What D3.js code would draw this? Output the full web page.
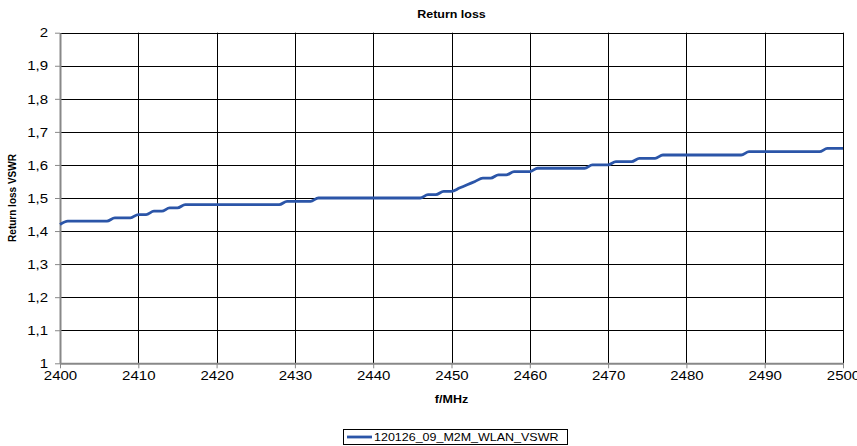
<!DOCTYPE html>
<html>
<head>
<meta charset="utf-8">
<script src="https://cdn.jsdelivr.net/npm/d3@7"></script>
<style>
  html, body { margin: 0; padding: 0; background: #fff; }
  svg { display: block; font-family: "Liberation Sans", Arial, sans-serif; }
</style>
</head>
<body>
<svg id="chart" width="857" height="446"></svg>
<script>
// ---- data ----
const title = "Return loss";
const xTitle = "f/MHz";
const yTitle = "Return loss VSWR";
const seriesName = "120126_09_M2M_WLAN_VSWR";
const freqs = d3.range(2400, 2501, 1);
const vswr = [
  1.42, 1.43, 1.43, 1.43, 1.43, 1.43, 1.43, 1.44, 1.44, 1.44, // 2400-2409
  1.45, 1.45, 1.46, 1.46, 1.47, 1.47, 1.48, 1.48, 1.48, 1.48, // 2410-2419
  1.48, 1.48, 1.48, 1.48, 1.48, 1.48, 1.48, 1.48, 1.48, 1.49, // 2420-2429
  1.49, 1.49, 1.49, 1.50, 1.50, 1.50, 1.50, 1.50, 1.50, 1.50, // 2430-2439
  1.50, 1.50, 1.50, 1.50, 1.50, 1.50, 1.50, 1.51, 1.51, 1.52, // 2440-2449
  1.52, 1.53, 1.54, 1.55, 1.56, 1.56, 1.57, 1.57, 1.58, 1.58, // 2450-2459
  1.58, 1.59, 1.59, 1.59, 1.59, 1.59, 1.59, 1.59, 1.60, 1.60, // 2460-2469
  1.60, 1.61, 1.61, 1.61, 1.62, 1.62, 1.62, 1.63, 1.63, 1.63, // 2470-2479
  1.63, 1.63, 1.63, 1.63, 1.63, 1.63, 1.63, 1.63, 1.64, 1.64, // 2480-2489
  1.64, 1.64, 1.64, 1.64, 1.64, 1.64, 1.64, 1.64, 1.65, 1.65, // 2490-2499
  1.65                                                         // 2500
];
const xTicks = [2400, 2410, 2420, 2430, 2440, 2450, 2460, 2470, 2480, 2490, 2500];
const yTicks = [1, 1.1, 1.2, 1.3, 1.4, 1.5, 1.6, 1.7, 1.8, 1.9, 2];
const yTickLabels = ["1", "1,1", "1,2", "1,3", "1,4", "1,5", "1,6", "1,7", "1,8", "1,9", "2"];

// ---- layout ----
const SX = 1.25; // horizontal text stretch seen in the reference
const plot = { left: 60, right: 843, top: 32.7, bottom: 363.3 };
const svg = d3.select("#chart");

const x = d3.scaleLinear().domain([2400, 2500]).range([plot.left, plot.right]);
const y = d3.scaleLinear().domain([1, 2]).range([plot.bottom, plot.top]);

// grid
const grid = svg.append("g");
grid.selectAll("line.h").data(yTicks.slice(1)).join("line")
  .attr("x1", plot.left).attr("x2", plot.right)
  .attr("y1", d => Math.round(y(d)) + 0.5).attr("y2", d => Math.round(y(d)) + 0.5)
  .attr("stroke", "#000").attr("stroke-width", 1);
grid.selectAll("line.v").data(xTicks.slice(1)).join("line")
  .attr("x1", d => Math.round(x(d)) + 0.5).attr("x2", d => Math.round(x(d)) + 0.5)
  .attr("y1", plot.top).attr("y2", plot.bottom)
  .attr("stroke", "#000").attr("stroke-width", 1);

// axes
const yAxis = svg.append("g")
  .attr("transform", `translate(${plot.left},0)`)
  .call(d3.axisLeft(y).tickValues(yTicks).tickSize(5).tickSizeOuter(0)
    .tickFormat((d, i) => yTickLabels[i]));
const xAxis = svg.append("g")
  .attr("transform", `translate(0,${plot.bottom})`)
  .call(d3.axisBottom(x).tickValues(xTicks).tickSize(5).tickSizeOuter(0)
    .tickFormat(d3.format("d")));

[yAxis, xAxis].forEach(a => {
  a.select(".domain").attr("stroke", "#888").attr("stroke-width", 2);
  a.selectAll(".tick line").attr("stroke", "#888").attr("stroke-width", 1);
  a.selectAll("text").attr("font-size", 12).attr("fill", "#000")
    .attr("font-family", "'Liberation Sans', Arial, sans-serif");
});
yAxis.selectAll(".tick text").attr("x", -12 / SX).attr("dy", "0.35em")
  .attr("transform", `scale(${SX},1)`);
xAxis.selectAll(".tick text").attr("y", 8).attr("transform", `scale(${SX},1)`);

// line
const line = d3.line()
  .x((d, i) => x(freqs[i]))
  .y(d => y(d))
  .curve(d3.curveMonotoneX);
svg.append("path")
  .datum(vswr)
  .attr("d", line)
  .attr("fill", "none")
  .attr("stroke", "#2b55a8")
  .attr("stroke-width", 2.8)
  .attr("stroke-linejoin", "round");

// titles
svg.append("text")
  .attr("transform", `translate(${(plot.left + plot.right) / 2},18) scale(${SX},1)`)
  .attr("text-anchor", "middle").attr("font-size", 10).attr("font-weight", "bold")
  .text(title);
svg.append("text")
  .attr("transform", `translate(${(plot.left + plot.right) / 2},403) scale(${SX},1)`)
  .attr("text-anchor", "middle").attr("font-size", 10).attr("font-weight", "bold")
  .text(xTitle);
svg.append("text")
  .attr("transform", `translate(16,${(plot.top + plot.bottom) / 2}) rotate(-90)`)
  .attr("text-anchor", "middle").attr("font-size", 10).attr("font-weight", "bold")
  .text(yTitle);

// legend
const lg = svg.append("g");
lg.append("rect")
  .attr("x", 343.5).attr("y", 429.5).attr("width", 224).attr("height", 15)
  .attr("fill", "#fff").attr("stroke", "#000").attr("stroke-width", 1);
lg.append("line")
  .attr("x1", 347).attr("x2", 372).attr("y1", 437).attr("y2", 437)
  .attr("stroke", "#2b55a8").attr("stroke-width", 2.8);
lg.append("text")
  .attr("transform", `translate(374,441) scale(${SX},1)`)
  .attr("font-size", 10).text(seriesName);
</script>
</body>
</html>
